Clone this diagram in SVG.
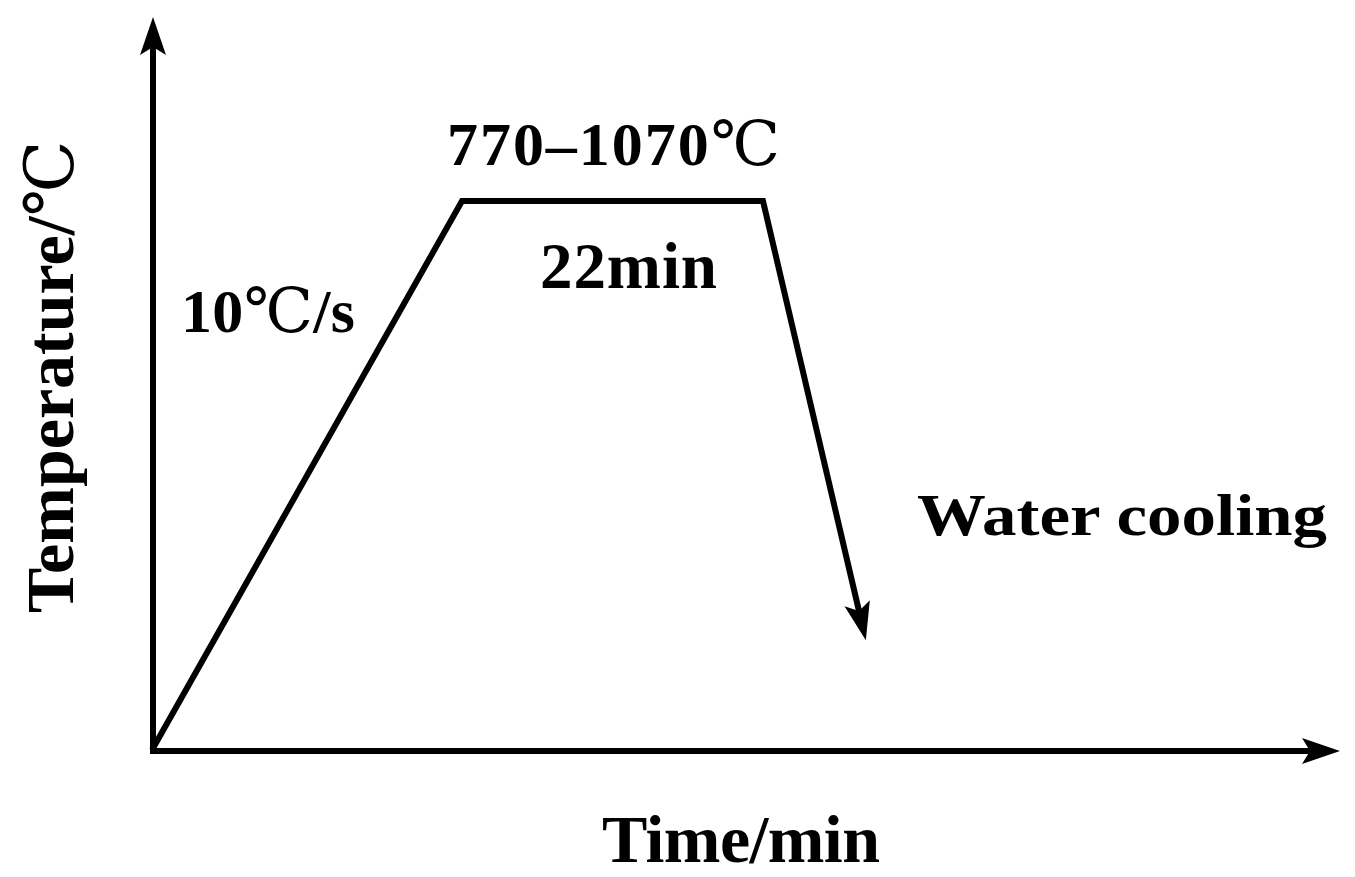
<svg xmlns="http://www.w3.org/2000/svg" width="1355" height="877" viewBox="0 0 1355 877">
<style>
.ln{fill:none;stroke:#000;stroke-width:6;stroke-linejoin:miter}
.t{font-family:"Liberation Serif","DejaVu Serif","Noto Sans CJK SC",serif;font-weight:bold;fill:#000}
.dc{font-family:"DejaVu Serif","Noto Sans CJK SC",serif;font-weight:normal}
</style>
<defs>
<marker id="ah" markerUnits="userSpaceOnUse" markerWidth="40" markerHeight="30" viewBox="0 -15 40 30" refX="8" refY="0" orient="auto" overflow="visible">
<path d="M0,-13 L38,0 L0,13 L8,0 Z" fill="#000"/>
</marker>
</defs>
<rect width="1355" height="877" fill="#fff"/>
<g id="connectors">
<path id="y-axis" class="ln" d="M153,751 L153,47" marker-end="url(#ah)"/>
<path id="x-axis" class="ln" d="M150,751 L1310,751" marker-end="url(#ah)"/>
<path id="profile" class="ln" d="M152,750 L462,201 L763,201 L859,611" marker-end="url(#ah)"/>
</g>
<g id="label-hold-temp"><text class="t" x="447" y="165" font-size="62" textLength="333" lengthAdjust="spacing">770–1070<tspan class="dc">℃</tspan></text></g>
<g id="label-hold-time"><text class="t" x="540" y="288" font-size="65" textLength="177" lengthAdjust="spacing">22min</text></g>
<g id="label-rate"><text class="t" x="181" y="332" font-size="62" textLength="174" lengthAdjust="spacing">10<tspan class="dc">℃</tspan>/s</text></g>
<g id="label-cooling"><text class="t" x="917" y="535" font-size="60" textLength="410" lengthAdjust="spacingAndGlyphs">Water cooling</text></g>
<g id="label-x"><text class="t" x="602" y="862" font-size="68" textLength="278" lengthAdjust="spacing">Time/min</text></g>
<g id="label-y"><text class="t" transform="translate(73,613) rotate(-90)" font-size="68">Temperature/<tspan class="dc">℃</tspan></text></g>
</svg>
